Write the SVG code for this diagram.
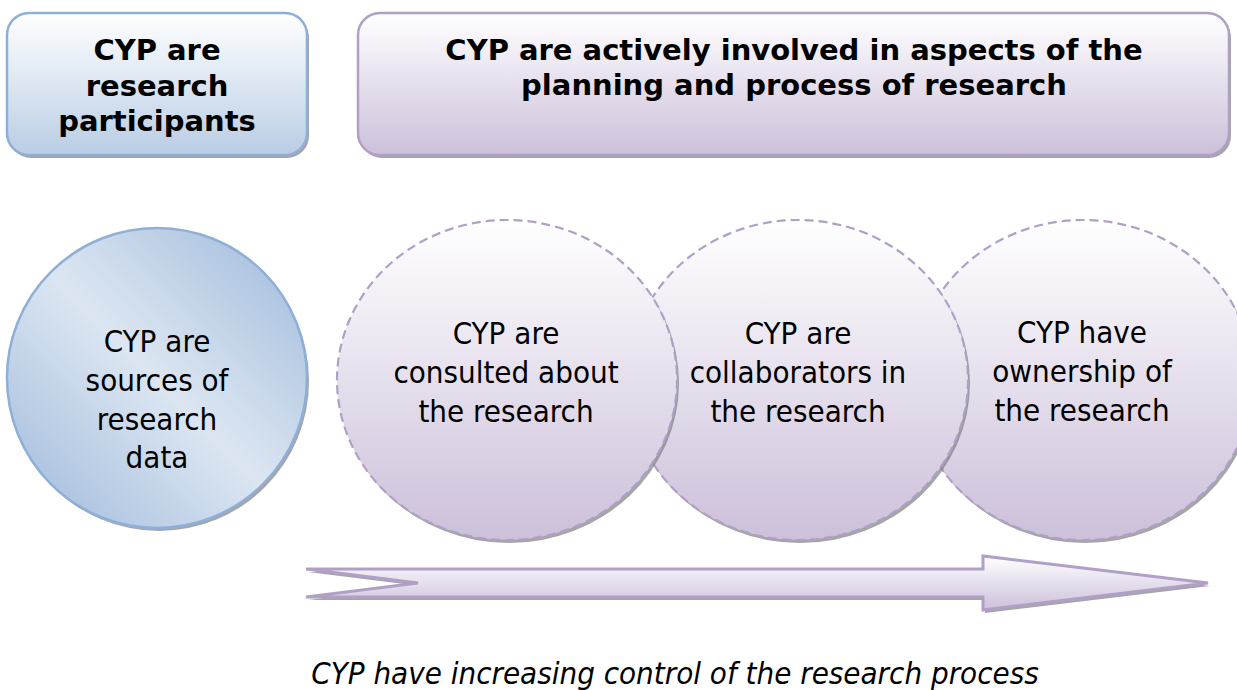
<svg xmlns="http://www.w3.org/2000/svg" width="1237" height="690" viewBox="0 0 1237 690">
  <style>
    .hdr { font-family: "DejaVu Sans", Verdana, sans-serif; font-weight: bold; font-size: 29px; text-anchor: middle; fill: #000; }
    .lbl { font-family: "DejaVu Sans Condensed", "DejaVu Sans", sans-serif; font-stretch: condensed; font-size: 31px; text-anchor: middle; fill: #000; }
    .cap { font-family: "DejaVu Sans Condensed", "DejaVu Sans", sans-serif; font-stretch: condensed; font-style: italic; font-size: 31px; text-anchor: middle; fill: #000; }
    .shadow { fill: #7f7f7f; opacity: 0.7; }
    .blueBox { fill: url(#gBlueV); stroke: #8eafd8; stroke-width: 2.5; }
    .purpleBox { fill: url(#gPurpleV); stroke: #b09fc6; stroke-width: 2.5; }
    .arrow { fill: url(#gPurpleV); stroke: #b09fc6; stroke-width: 3; stroke-linejoin: miter; }
    .dashed { fill: url(#gPurpleV); stroke: #b09fc6; stroke-width: 2.2; stroke-dasharray: 9 5; }
  </style>
  <defs>
    <linearGradient id="gBlueV" x1="0" y1="0" x2="0" y2="1">
      <stop offset="0" stop-color="#ffffff"/>
      <stop offset="1" stop-color="#b9cde5"/>
    </linearGradient>
    <linearGradient id="gPurpleV" x1="0" y1="0" x2="0" y2="1">
      <stop offset="0" stop-color="#ffffff"/>
      <stop offset="1" stop-color="#ccc0da"/>
    </linearGradient>
    <linearGradient id="gBlueDiag" x1="1" y1="0" x2="0" y2="1">
      <stop offset="0" stop-color="#9db8da"/>
      <stop offset="0.5" stop-color="#dce6f2"/>
      <stop offset="1" stop-color="#9db8da"/>
    </linearGradient>
  </defs>

  <rect width="1237" height="690" fill="#ffffff"/>

  <!-- header boxes -->
  <g id="box-participants">
    <rect class="shadow" x="9" y="16" width="300" height="142" rx="22"/>
    <rect class="blueBox" x="7" y="13" width="300" height="142" rx="22"/>
    <text class="hdr" x="157" y="60">CYP are</text>
    <text class="hdr" x="157" y="96">research</text>
    <text class="hdr" x="157" y="131">participants</text>
  </g>

  <g id="box-involved">
    <rect class="shadow" x="360" y="16" width="871" height="142" rx="22"/>
    <rect class="purpleBox" x="358" y="13" width="871" height="142" rx="22"/>
    <text class="hdr" x="794" y="60">CYP are actively involved in aspects of the</text>
    <text class="hdr" x="794" y="95">planning and process of research</text>
  </g>

  <!-- blue circle -->
  <g id="circle-sources">
    <circle class="shadow" cx="159" cy="381" r="150"/>
    <circle cx="157" cy="378" r="150" fill="url(#gBlueDiag)" stroke="#8eafd8" stroke-width="2.5"/>
    <text class="lbl" x="157" y="352">CYP are</text>
    <text class="lbl" x="157" y="391">sources of</text>
    <text class="lbl" x="157" y="430">research</text>
    <text class="lbl" x="157" y="468">data</text>
  </g>

  <!-- dashed circles, drawn right to left so each overlaps the next -->
  <g id="circle-ownership">
    <ellipse class="shadow" cx="1085" cy="383" rx="170" ry="160"/>
    <ellipse class="dashed" cx="1083" cy="380" rx="170" ry="160"/>
    <text class="lbl" x="1082" y="343">CYP have</text>
    <text class="lbl" x="1082" y="382">ownership of</text>
    <text class="lbl" x="1082" y="421">the research</text>
  </g>

  <g id="circle-collaborators">
    <ellipse class="shadow" cx="800" cy="383" rx="170" ry="160"/>
    <ellipse class="dashed" cx="798" cy="380" rx="170" ry="160"/>
    <text class="lbl" x="798" y="344">CYP are</text>
    <text class="lbl" x="798" y="383">collaborators in</text>
    <text class="lbl" x="798" y="422">the research</text>
  </g>

  <g id="circle-consulted">
    <ellipse class="shadow" cx="509" cy="383" rx="170" ry="160"/>
    <ellipse class="dashed" cx="507" cy="380" rx="170" ry="160"/>
    <text class="lbl" x="506" y="344">CYP are</text>
    <text class="lbl" x="506" y="383">consulted about</text>
    <text class="lbl" x="506" y="422">the research</text>
  </g>

  <!-- progression arrow -->
  <g id="connectors">
    <path class="shadow" d="M308,572 L985,572 L985,559 L1210,586 L985,613 L985,600 L308,600 L420,586 Z"/>
    <path class="arrow" d="M306,569 L983,569 L983,556 L1208,583 L983,610 L983,597 L306,597 L418,583 Z"/>
  </g>

  <g id="caption">
    <text class="cap" x="675" y="684">CYP have increasing control of the research process</text>
  </g>
</svg>
